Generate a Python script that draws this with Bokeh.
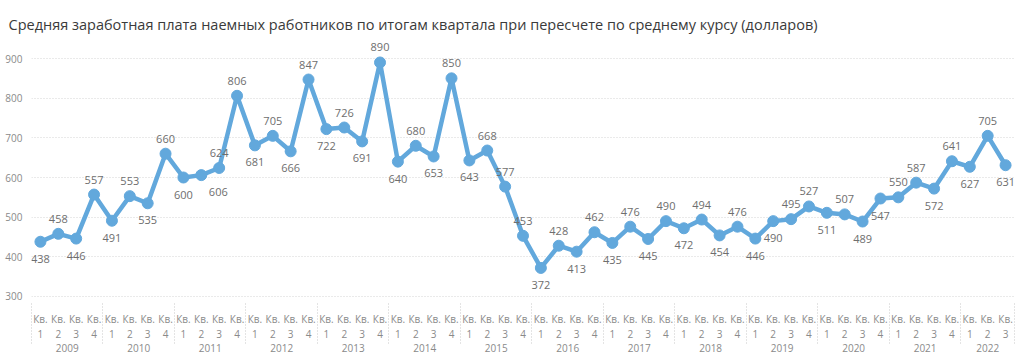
from bokeh.plotting import figure
from bokeh.models import ColumnDataSource, FixedTicker, LinearAxis, Range1d
from bokeh.core.properties import value
from bokeh.embed import file_html
from bokeh.resources import INLINE

title_text = ("Средняя заработная плата наемных работников по итогам квартала "
              "при пересчете по среднему курсу (долларов)")

years = [str(y) for y in range(2009, 2023)]
quarters_per_year = [4] * 13 + [3]
wages = [438, 458, 446, 557,
         491, 553, 535, 660,
         600, 606, 624, 806,
         681, 705, 666, 847,
         722, 726, 691, 890,
         640, 680, 653, 850,
         643, 668, 577, 453,
         372, 428, 413, 462,
         435, 476, 445, 490,
         472, 494, 454, 476,
         446, 490, 495, 527,
         511, 507, 489, 547,
         550, 587, 572, 641,
         627, 705, 631]
y_ticks = [300, 400, 500, 600, 700, 800, 900]

# label placement (style): 1 = above point, -1 = below point
label_side = [-1, 1, -1, 1,
              -1, 1, -1, 1,
              -1, -1, 1, 1,
              -1, 1, -1, 1,
              -1, 1, -1, 1,
              -1, 1, -1, 1,
              -1, 1, 1, 1,
              -1, 1, -1, 1,
              -1, 1, -1, 1,
              -1, 1, -1, 1,
              -1, -1, 1, 1,
              -1, 1, -1, -1,
              1, 1, -1, 1,
              -1, 1, -1]

# build x positions and tick labels
xs = list(range(len(wages)))
quarter_overrides = {}
year_centers = []
year_overrides = {}
boundaries = [-0.5]
i = 0
for yr, nq in zip(years, quarters_per_year):
    for q in range(1, nq + 1):
        quarter_overrides[i] = "Кв.\n%d" % q
        i += 1
    c = (i - nq + i - 1) / 2.0
    year_centers.append(c)
    year_overrides[c] = yr
    boundaries.append(i - 0.5)

dx = [0] * len(wages)
dx[9] = 17
dy = [-15 if s > 0 else 17 for s in label_side]

src = ColumnDataSource(dict(x=xs, y=wages, lab=[str(v) for v in wages], dx=dx, dy=dy))

FONT = "Open Sans"
BLUE = "#62a8dc"

p = figure(width=1024, height=355, output_backend="svg", toolbar_location=None,
           x_range=Range1d(-0.5, 54.5), y_range=Range1d(289.9, 945.4),
           min_border_left=31, min_border_right=10, min_border_top=40, min_border_bottom=55)
p.outline_line_color = None
p.background_fill_color = "white"
p.border_fill_color = "white"

p.title.text = title_text
p.title.text_font = FONT
p.title.text_font_size = "14.5px"
p.title.text_font_style = "normal"
p.title.text_color = "#3a3a3a"
p.title.align = "left"
p.title.vertical_align = "top"
p.title.text_line_height = 1.0
p.title.offset = -23
p.title.standoff = 10

# y axis
p.yaxis.ticker = FixedTicker(ticks=y_ticks)
p.yaxis.axis_line_color = None
p.yaxis.major_tick_line_color = None
p.yaxis.minor_tick_line_color = None
p.yaxis.major_label_text_font = FONT
p.yaxis.major_label_text_font_size = "10px"
p.yaxis.major_label_text_color = "#8a8a8a"
p.yaxis.major_label_standoff = 3

p.ygrid.ticker = FixedTicker(ticks=y_ticks)
p.ygrid.grid_line_color = "#d4d4d4"
p.ygrid.grid_line_dash = "1 2"
p.xgrid.visible = False

# quarter axis
xa = p.xaxis[0]
xa.ticker = FixedTicker(ticks=xs)
xa.major_label_overrides = quarter_overrides
xa.axis_line_color = None
xa.major_tick_line_color = None
xa.minor_tick_line_color = None
xa.major_label_text_font = FONT
xa.major_label_text_font_size = "10px"
xa.major_label_text_line_height = 1.1
xa.major_label_text_color = "#8a8a8a"
xa.major_label_standoff = 5

# year axis
ya = LinearAxis(ticker=FixedTicker(ticks=year_centers, minor_ticks=boundaries))
ya.major_label_overrides = year_overrides
ya.axis_line_color = None
ya.major_tick_line_color = None
ya.minor_tick_line_color = "#c8c8c8"
ya.minor_tick_line_dash = "1 2"
ya.minor_tick_in = 40
ya.minor_tick_out = 0
ya.major_label_text_font = FONT
ya.major_label_text_font_size = "10px"
ya.major_label_text_color = "#8a8a8a"
ya.major_label_standoff = -6
p.add_layout(ya, "below")

p.line("x", "y", source=src, line_width=4.5, line_color=BLUE, line_join="round")
p.scatter("x", "y", source=src, size=11, fill_color=BLUE, line_color=BLUE)
p.text("x", "y", text="lab", source=src, x_offset="dx", y_offset="dy",
       text_align="center", text_baseline="middle", text_font=value(FONT),
       text_font_size="11px", text_color="#6e6e6e")

open("out.html", "w").write(file_html(p, INLINE))
